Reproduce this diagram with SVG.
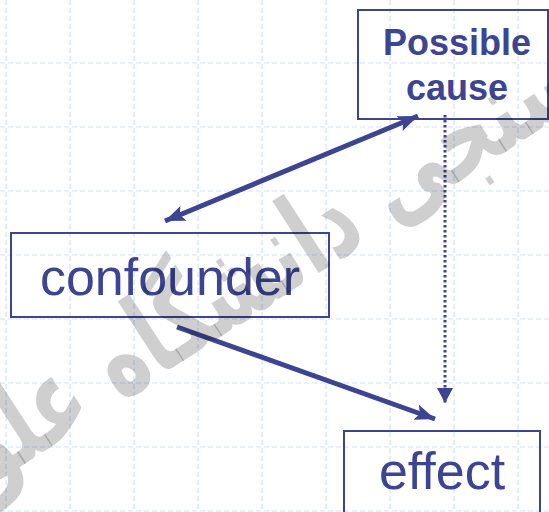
<svg xmlns="http://www.w3.org/2000/svg" width="549" height="512" viewBox="0 0 549 512">
  <style>
    .grid line { stroke: #d6e0fa; stroke-width: 1.2; stroke-dasharray: 5 3; }
    .box { fill: none; stroke: #3d4592; stroke-width: 2; }
    .label { fill: #3d4592; font-family: "Liberation Sans", Arial, sans-serif; text-anchor: middle; }
    .edge { stroke: #3d4592; stroke-width: 5; fill: none; }
    .dotted { stroke: #3d4592; stroke-width: 3; stroke-dasharray: 2.5 2.5; fill: none; }
    .mark { fill: #000000; fill-opacity: 0.19; font-family: "DejaVu Sans", sans-serif; font-weight: bold; text-anchor: middle; }
  </style>
  <defs>
    <marker id="head" viewBox="0 0 20 16" refX="20" refY="8" markerWidth="20" markerHeight="16" markerUnits="userSpaceOnUse" orient="auto-start-reverse">
      <path d="M0,0 L20,8 L0,16 L4,8 Z" fill="#3d4592"/>
    </marker>
    <marker id="small" viewBox="0 0 16 15" refX="8" refY="15" markerWidth="16" markerHeight="15" markerUnits="userSpaceOnUse" orient="0">
      <path d="M0,0 L16,0 L8,15 Z" fill="#3d4592"/>
    </marker>
  </defs>
  <rect width="549" height="512" fill="#ffffff"/>
  <!-- background grid -->
  <g class="grid">
    <line x1="6" y1="0" x2="6" y2="512"/>
    <line x1="70" y1="0" x2="70" y2="512"/>
    <line x1="134" y1="0" x2="134" y2="512"/>
    <line x1="198" y1="0" x2="198" y2="512"/>
    <line x1="262" y1="0" x2="262" y2="512"/>
    <line x1="326" y1="0" x2="326" y2="512"/>
    <line x1="390" y1="0" x2="390" y2="512"/>
    <line x1="454" y1="0" x2="454" y2="512"/>
    <line x1="518" y1="0" x2="518" y2="512"/>
    <line x1="0" y1="63" x2="549" y2="63"/>
    <line x1="0" y1="127" x2="549" y2="127"/>
    <line x1="0" y1="191" x2="549" y2="191"/>
    <line x1="0" y1="255" x2="549" y2="255"/>
    <line x1="0" y1="319" x2="549" y2="319"/>
    <line x1="0" y1="383" x2="549" y2="383"/>
    <line x1="0" y1="447" x2="549" y2="447"/>
    <line x1="0" y1="511" x2="549" y2="511"/>
  </g>
  <!-- nodes -->
  <g id="possible-cause">
    <rect class="box" x="358" y="10" width="190" height="109"/>
    <text class="label" x="457" y="55" font-size="36" font-weight="bold">Possible</text>
    <text class="label" x="457" y="100" font-size="36" font-weight="bold">cause</text>
  </g>
  <g id="confounder">
    <rect class="box" x="11" y="233" width="318" height="84"/>
    <text class="label" x="170" y="295" font-size="52">confounder</text>
  </g>
  <g id="effect">
    <rect class="box" x="344" y="431" width="196" height="90"/>
    <text class="label" x="442" y="489" font-size="52">effect</text>
  </g>
  <!-- connectors -->
  <g id="connectors">
    <line class="edge" x1="165" y1="221" x2="418" y2="116" marker-start="url(#head)" marker-end="url(#head)"/>
    <line class="edge" x1="177" y1="327" x2="435" y2="419" marker-end="url(#head)"/>
    <line class="dotted" x1="445" y1="115" x2="445" y2="403" marker-end="url(#small)"/>
  </g>
  <!-- watermark -->
  <text class="mark" x="0" y="0" font-size="98" transform="translate(291 291) rotate(-33) scale(0.8 1.15)">سنجی دانشگاه علو</text>
</svg>
